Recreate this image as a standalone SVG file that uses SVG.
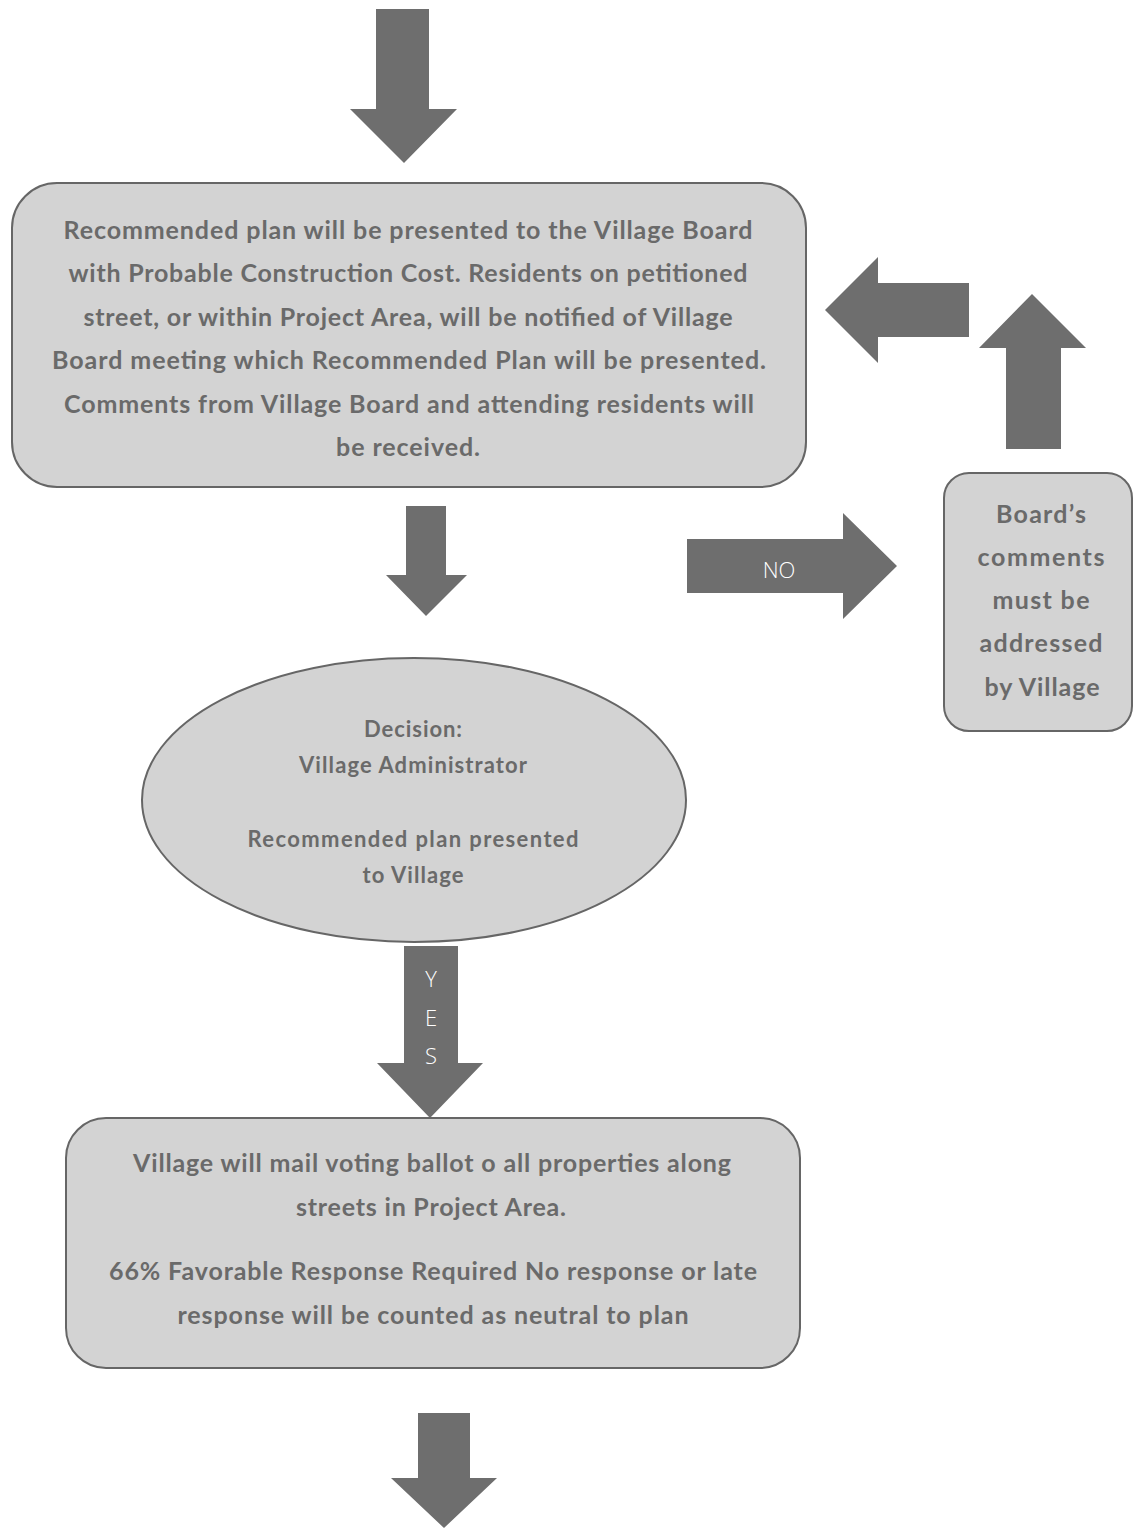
<svg xmlns="http://www.w3.org/2000/svg" width="1133" height="1528" viewBox="0 0 1133 1528">
<style>
.box{fill:#d3d3d3;stroke:#666;stroke-width:2}
.arr{fill:#6e6e6e}
.t{font-family:Lato,"Open Sans","Liberation Sans",sans-serif;font-weight:bold;fill:#6a6a6a;text-anchor:middle}
.big{font-size:25px}
.mid{font-size:22px}
.lbl{font-family:"Open Sans","Liberation Sans",sans-serif;font-weight:300;fill:#fff;text-anchor:middle;font-size:22px}
</style>
<rect width="1133" height="1528" fill="#fff"/>
<g id="connectors">
  <polygon class="arr" points="376,9 429,9 429,109 457,109 404,163 350,109 376,109"/>
  <polygon class="arr" points="406,506 446,506 446,575 467,575 426,616 386,575 406,575"/>
  <polygon class="arr" points="687,539 843,539 843,513 897,566 843,619 843,593 687,593"/>
  <text class="lbl" x="779" y="578">NO</text>
  <polygon class="arr" points="1006,449 1006,348 979,348 1032,294 1086,348 1061,348 1061,449"/>
  <polygon class="arr" points="969,283 878,283 878,257 825,310 878,363 878,337 969,337"/>
  <polygon class="arr" points="404,946 458,946 458,1063 483,1063 430,1118 377,1063 404,1063"/>
  <text class="lbl" x="431" y="987">Y</text>
  <text class="lbl" x="431" y="1026">E</text>
  <text class="lbl" x="431" y="1064">S</text>
  <polygon class="arr" points="418,1413 470,1413 470,1478 497,1478 444,1528 391,1478 418,1478"/>
</g>
<g id="node-board-presentation">
  <rect class="box" x="12" y="183" width="794" height="304" rx="45" ry="45"/>
  <text class="t big" x="408" y="239" textLength="689">Recommended plan will be presented to the Village Board</text>
  <text class="t big" x="408" y="282" textLength="679">with Probable Construction Cost. Residents on petitioned</text>
  <text class="t big" x="408" y="326" textLength="649">street, or within Project Area, will be notified of Village</text>
  <text class="t big" x="409" y="369" textLength="714">Board meeting which Recommended Plan will be presented.</text>
  <text class="t big" x="409" y="413" textLength="690">Comments from Village Board and attending residents will</text>
  <text class="t big" x="408" y="456" textLength="144">be received.</text>
</g>
<g id="node-boards-comments">
  <rect class="box" x="944" y="473" width="188" height="258" rx="25" ry="25"/>
  <text class="t big" x="1041" y="523" textLength="90">Board’s</text>
  <text class="t big" x="1041" y="566" textLength="127">comments</text>
  <text class="t big" x="1041" y="609" textLength="97">must be</text>
  <text class="t big" x="1041" y="652" textLength="123">addressed</text>
  <text class="t big" x="1042" y="696" textLength="115">by Village</text>
</g>
<g id="node-decision">
  <ellipse class="box" cx="414" cy="800" rx="272" ry="142"/>
  <text class="t mid" x="413" y="737" textLength="98">Decision:</text>
  <text class="t mid" x="413" y="773" textLength="228">Village Administrator</text>
  <text class="t mid" x="413" y="847" textLength="331">Recommended plan presented</text>
  <text class="t mid" x="413" y="883" textLength="101">to Village</text>
</g>
<g id="node-ballot">
  <rect class="box" x="66" y="1118" width="734" height="250" rx="40" ry="40"/>
  <text class="t big" x="432" y="1172" textLength="598">Village will mail voting ballot o all properties along</text>
  <text class="t big" x="431" y="1216" textLength="270">streets in Project Area.</text>
  <text class="t big" x="433" y="1280" textLength="648">66% Favorable Response Required No response or late</text>
  <text class="t big" x="433" y="1324" textLength="511">response will be counted as neutral to plan</text>
</g>
</svg>
